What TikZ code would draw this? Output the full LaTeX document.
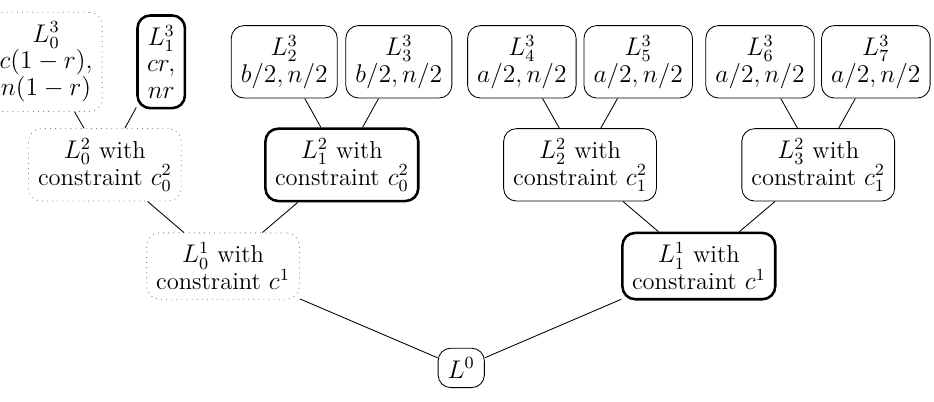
\documentclass[tikz,border=0pt]{standalone}
\usepackage{amssymb}

\begin{document}
\begin{tikzpicture}[
			layer/.style={draw, rounded corners=6pt, align=center, inner sep=4.5pt,
				font=\fontsize{11.5}{12.5}\selectfont},
			picked/.style={layer, very thick},
			dropped/.style={layer, gray, dotted, text=black}
			]
			\useasboundingbox (0,0) rectangle (15.41,-6.62);
			% level 3
			\node[dropped] (l30) at (0.76,-1.02) {$L_0^3$\\$c(1-r),$\\$n(1-r)$};
			\node[picked] (l31) at (2.66,-1.02) {$L_1^3$\\$cr,$\\$nr$};
			\node[layer] (l32) at (4.69,-1.02) {$L_2^3$\\$b/2, n/2$};
			\node[layer] (l33) at (6.58,-1.02) {$L_3^3$\\$b/2, n/2$};
			\node[layer] (l34) at (8.61,-1.02) {$L_4^3$\\$a/2, n/2$};
			\node[layer] (l35) at (10.53,-1.02) {$L_5^3$\\$a/2, n/2$};
			\node[layer] (l36) at (12.54,-1.02) {$L_6^3$\\$a/2, n/2$};
			\node[layer] (l37) at (14.45,-1.02) {$L_7^3$\\$a/2, n/2$};
			% level 2
			\node[dropped] (l20) at (1.73,-2.72) {$L_0^2$ with\\constraint $c_0^2$};
			\node[picked] (l21) at (5.64,-2.72) {$L_1^2$ with\\constraint $c_0^2$};
			\node[layer] (l22) at (9.57,-2.72) {$L_2^2$ with\\constraint $c_1^2$};
			\node[layer] (l23) at (13.50,-2.72) {$L_3^2$ with\\constraint $c_1^2$};
			% level 1
			\node[dropped] (l10) at (3.68,-4.39) {$L_0^1$ with\\constraint $c^1$};
			\node[picked] (l11) at (11.53,-4.39) {$L_1^1$ with\\constraint $c^1$};
			% level 0
			\node[layer] (l0) at (7.61,-6.07) {$L^0$};
			
			\draw (l0) -- (l10);
			\draw (l0) -- (l11);
			\draw (l10) -- (l20);
			\draw (l10) -- (l21);
			\draw (l11) -- (l22);
			\draw (l11) -- (l23);
			\draw (l20) -- (l30);
			\draw (l20) -- (l31);
			\draw (l21) -- (l32);
			\draw (l21) -- (l33);
			\draw (l22) -- (l34);
			\draw (l22) -- (l35);
			\draw (l23) -- (l36);
			\draw (l23) -- (l37);
		\end{tikzpicture}
\end{document}
